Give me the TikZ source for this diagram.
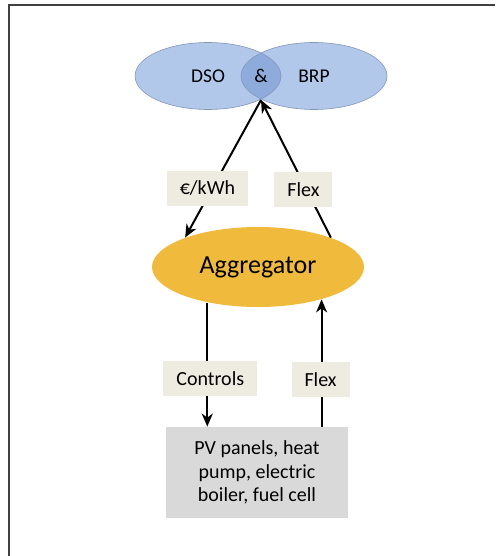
\documentclass[tikz,border=0pt]{standalone}
\usepackage{fontspec}
\setmainfont{Carlito}
\usetikzlibrary{arrows.meta, positioning, shapes}

\definecolor{partyfill}{HTML}{B1C8EA}
\definecolor{partydark}{HTML}{8EABDB}
\definecolor{partyline}{HTML}{8497B8}
\definecolor{hubfill}{HTML}{F0BA3C}
\definecolor{tagfill}{HTML}{EEECE1}
\definecolor{blockfill}{HTML}{D9D9D9}
\definecolor{framegray}{HTML}{404040}

\begin{document}
\begin{tikzpicture}[
    x=1pt, y=-1pt, thick,
    party/.style={fill=partyfill, ellipse, text centered,
    minimum height=67pt, minimum width=146pt, inner sep=0pt},
    word/.style={font=\fontsize{19.5}{23}\selectfont},
    hub/.style={fill=hubfill, ellipse, text centered,
    minimum height=80pt, minimum width=212pt, inner sep=0pt,
    font=\fontsize{26}{30}\selectfont},
    tag/.style={fill=tagfill, text centered, minimum height=35pt,
    inner xsep=13pt, font=\fontsize{20}{23}\selectfont},
    block/.style={fill=blockfill, align=center, minimum height=91pt,
    minimum width=182pt, font=\fontsize{20}{23.5}\selectfont},
    flow/.style={-{Stealth[length=13pt, width=11pt, inset=4pt]},
    line width=2pt, black}
    ]
    \useasboundingbox (0,0) rectangle (495,556);
    \draw[framegray, line width=1.5pt] (9,556) -- (9,5) -- (495,5);

    % parties
    \node[party]  (dso)  at (208,76)     {};
    \node[party]  (brp)  at (314,76)     {};
    \begin{scope}
      \clip (dso.center) ellipse [x radius=73, y radius=33.5];
      \fill[partydark] (brp.center) ellipse [x radius=73, y radius=33.5];
    \end{scope}
    \draw[partyline, line width=0.6pt] (dso.center) ellipse [x radius=73, y radius=33.5];
    \draw[partyline, line width=0.6pt] (brp.center) ellipse [x radius=73, y radius=33.5];
    \node[word]  at (dso.center)  {DSO};
    \node[word]  at (brp.center)  {BRP};
    \node[word]  (and) at (261,76) {\&};
    \coordinate (meet) at (261,100);

    \node[hub]    (agg)  at (258,267)    {Aggregator};
    \node[block]  (pv)   at (257,472.5)  {PV panels, heat\\ pump, electric\\ boiler, fuel cell};

    \path[flow]
    (meet)      edge  node[tag, pos=0.64, xshift=-5pt]  (price)   {€/kWh}     (agg.158)
    (agg.22)    edge  node[tag, pos=0.35, xshift=-3pt]  (flexup)  {Flex}      (meet)
    (agg.215)   edge  node[tag, pos=0.61, xshift=3pt]   (ctrl)    {Controls}  (agg.215 |- pv.north)
    (agg.333 |- pv.north)  edge  node[tag, pos=0.37, xshift=-1pt]  (flexdn)  {Flex}  (agg.333)
    ;
  \end{tikzpicture}
\end{document}
